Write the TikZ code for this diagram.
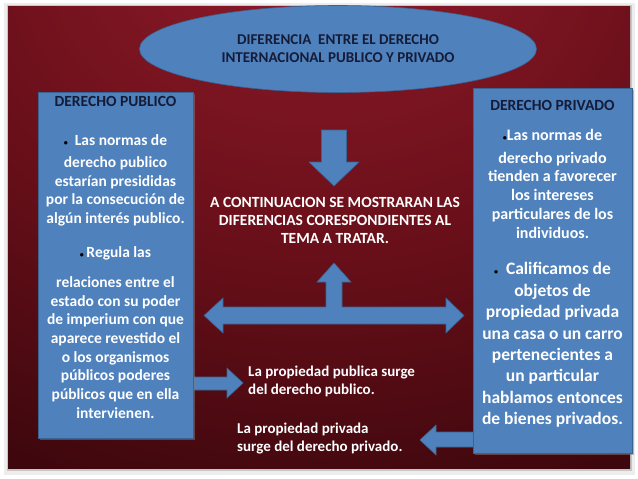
\documentclass[tikz,border=0pt]{standalone}
\usepackage{fontspec}
\setmainfont{Carlito}
\usetikzlibrary{shapes.geometric,shadows}
\definecolor{boxblue}{HTML}{4F81BD}
\definecolor{boxline}{HTML}{3A6392}
\definecolor{navy}{HTML}{151C38}
\definecolor{glowred}{HTML}{961C2D}
\definecolor{midred}{HTML}{680F19}
\definecolor{darkred}{HTML}{33050A}
\definecolor{deepred}{HTML}{1B0205}
\pgfdeclareradialshading{slideglow}{\pgfpoint{0bp}{38bp}}{color(0bp)=(glowred); color(30bp)=(midred); color(56bp)=(darkred); color(82bp)=(deepred); color(110bp)=(deepred)}
\newcommand{\dotmark}{{\color{black}\fontsize{8}{8}\selectfont\textbullet}}

\begin{document}
\begin{tikzpicture}[x=1pt, y=-1pt,
    every node/.style={inner sep=0pt},
    bluebox/.style={fill=boxblue, draw=boxline, line width=0.6pt},
    boxshadow/.style={drop shadow={opacity=0.5, shadow xshift=2pt, shadow yshift=-2pt}},
    blockarrow/.style={fill=boxblue, draw=boxline, line width=0.6pt},
    headtext/.style={text=navy, font=\bfseries\fontsize{15.5}{18}\selectfont},
    bodytext/.style={text=white, align=center, font=\bfseries\fontsize{15.5}{18.7}\selectfont},
    sidetext/.style={text=white, align=left, anchor=west, font=\bfseries\fontsize{15}{18}\selectfont}]
    \useasboundingbox (0,0) rectangle (638,479);
    % slide and its shadow
    \fill[black!7] (4,3) rectangle (635,475);
    \fill[black!22] (7,5) rectangle (632,471);
    \shade[shading=slideglow] (8,6) rectangle (630,468);

    % title
    \node[ellipse, bluebox, minimum width=397, minimum height=87, align=center,
        text=navy, font=\bfseries\fontsize{15}{18}\selectfont] (titel) at (338,49)
        {DIFERENCIA\ \ ENTRE EL DERECHO\\INTERNACIONAL PUBLICO Y PRIVADO};

    % arrows
    \draw[blockarrow] (321.5,130) -- (346.5,130) -- (346.5,162) -- (359,162) -- (334,186)
        -- (309,162) -- (321.5,162) -- cycle;
    \draw[blockarrow] (334,263) -- (351,282) -- (342,282) -- (342,307) -- (446,307) -- (446,298)
        -- (464,315.5) -- (446,333) -- (446,324) -- (223,324) -- (223,333) -- (204,315.5)
        -- (223,298) -- (223,307) -- (326,307) -- (326,282) -- (317,282) -- cycle;
    \draw[blockarrow] (190,377) -- (227,377) -- (227,368) -- (243,383) -- (227,398) -- (227,390)
        -- (190,390) -- cycle;
    \draw[blockarrow] (476,432) -- (436,432) -- (436,425) -- (420,440) -- (436,455) -- (436,447)
        -- (476,447) -- cycle;

    % boxes
    \node[bluebox, boxshadow, minimum width=155, minimum height=346] (pub) at (115.5,265) {};
    \node[bluebox, boxshadow, minimum width=159, minimum height=365] (priv) at (552.5,270.5) {};

    \node[headtext] (pubhead) at (115.5,101) {DERECHO PUBLICO};
    \node[bodytext] (pubA) at (115.5,140) {\dotmark\ \ Las normas de};
    \node[bodytext] (pubAtext) at (115.5,191.5) {derecho publico\\estarían presididas\\por la consecución de\\algún interés publico.};
    \node[bodytext] (pubB) at (115.5,253) {\dotmark\,Regula las};
    \node[bodytext] (pubBtext) at (115.5,347.5) {relaciones entre el\\estado con su poder\\de imperium con que\\aparece revestido el\\o los organismos\\públicos poderes\\públicos que en ella\\intervienen.};

    \node[headtext] (privhead) at (552.5,105) {DERECHO PRIVADO};
    \node[bodytext, font=\bfseries\fontsize{16}{18.8}\selectfont] (privA) at (552.5,135) {\dotmark Las normas de};
    \node[bodytext, font=\bfseries\fontsize{16}{18.8}\selectfont] (privAtext) at (552.5,195.2) {derecho privado\\tienden a favorecer\\los intereses\\particulares de los\\individuos.};
    \node[bodytext, font=\bfseries\fontsize{17.5}{21.4}\selectfont] (privB) at (552.5,345) {\dotmark\ \ Calificamos de\\objetos de\\propiedad privada\\una casa o un carro\\pertenecientes a\\un particular\\hablamos entonces\\de bienes privados.};

    % middle texts
    \node[bodytext, font=\bfseries\fontsize{15.5}{18}\selectfont] (intro) at (335,220)
        {A CONTINUACION SE MOSTRARAN LAS\\DIFERENCIAS CORESPONDIENTES AL\\TEMA A TRATAR.};
    \node[sidetext] (pubnote) at (248,381) {La propiedad publica surge\\del derecho publico.};
    \node[sidetext] (privnote) at (237,439) {La propiedad privada\\surge del derecho privado.};
\end{tikzpicture}
\end{document}
